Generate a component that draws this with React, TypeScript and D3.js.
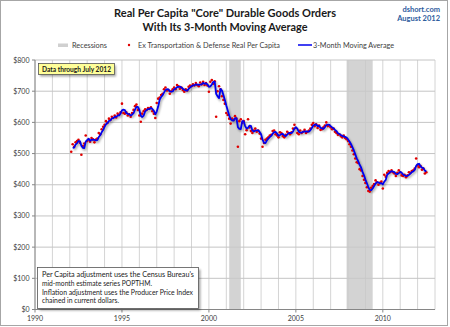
import React from "react";
import * as d3 from "d3";

// ---- Data ----
const startYear = 1992;
const startMonth = 1; // Feb (0-based)
const monthlyValues: number[] = [
  // 1992 Feb-Dec
  506, 530, 522, 536, 540, 544, 535, 496, 524, 532, 558,
  // 1993
  540, 545, 538, 550, 546, 536, 545, 548, 566, 562, 578, 586,
  // 1994
  592, 604, 598, 612, 608, 618, 614, 622, 616, 628, 624, 632,
  // 1995
  660, 630, 628, 632, 622, 626, 618, 630, 640, 652, 657, 640,
  // 1996
  622, 602, 628, 636, 642, 640, 646, 644, 648, 636, 628, 614,
  // 1997
  662, 676, 680, 688, 692, 706, 712, 702, 704, 692, 700, 706,
  // 1998
  712, 706, 720, 716, 708, 712, 704, 698, 706, 702, 714, 718,
  // 1999
  716, 722, 718, 726, 720, 716, 728, 722, 730, 720, 726, 718,
  // 2000
  698, 730, 736, 724, 732, 618, 700, 716, 706, 684, 672, 660,
  // 2001
  630, 624, 612, 596, 612, 608, 620, 612, 522, 604, 610, 598,
  // 2002
  604, 562, 575, 610, 584, 572, 566, 574, 580, 570, 574, 564,
  // 2003
  548, 522, 534, 544, 548, 552, 558, 560, 572, 574, 562, 558,
  // 2004
  552, 568, 566, 556, 552, 560, 570, 566, 562, 568, 580, 592,
  // 2005
  582, 566, 562, 574, 566, 570, 576, 566, 570, 574, 580, 592,
  // 2006
  598, 588, 594, 582, 590, 576, 578, 584, 590, 600, 588, 590,
  // 2007
  584, 578, 580, 570, 566, 560, 562, 556, 552, 558, 550, 546,
  // 2008
  540, 530, 522, 510, 498, 484, 472, 470, 450, 446, 428, 416,
  // 2009
  406, 392, 380, 378, 390, 396, 402, 414, 408, 400, 406, 410,
  // 2010
  388, 432, 426, 438, 444, 440, 446, 440, 436, 428, 438, 446,
  // 2011
  440, 430, 428, 432, 424, 430, 440, 438, 444, 446, 452, 484,
  // 2012 Jan-Jul
  462, 456, 460, 448, 452, 436, 440,
];

const recessionStarts = [2001 + 2 / 12, 2007 + 11 / 12];
const recessionEnds = [2001 + 10 / 12, 2009 + 5 / 12];

const yTicks = [0, 100, 200, 300, 400, 500, 600, 700, 800];
const xLabelYears = [1990, 1995, 2000, 2005, 2010];
const gridYears = d3.range(1990, 2014);

const titleLines = ['Real Per Capita "Core" Durable Goods Orders', "With Its 3-Month Moving Average"];
const noteLines = [
  "Per Capita adjustment uses the Census Bureau's",
  "mid-month estimate series POPTHM.",
  "Inflation adjustment uses the Producer Price Index",
  "chained in current dollars.",
];
const noteWidths = [152, 110, 151, 77];

export default function App() {
  const W = 450, H = 327;
  const x = d3.scaleLinear().domain([1990, 2013]).range([35, 435]);
  const y = d3.scaleLinear().domain([0, 800]).range([309.5, 60]);

  const pts = monthlyValues.map((v, i) => {
    const m = startMonth + i;
    return { t: startYear + m / 12, v };
  });
  const ma = pts.map((p, i) => {
    const win = pts.slice(Math.max(0, i - 2), i + 1);
    return { t: p.t, v: d3.mean(win, (d) => d.v) as number };
  }).slice(1);

  const line = d3.line<{ t: number; v: number }>()
    .x((d) => x(d.t))
    .y((d) => y(d.v))
    .curve(d3.curveLinear);

  const font = "Lato, 'Open Sans', sans-serif";
  const axisColor = "#404040";

  return (
    <svg width={W} height={H} style={{ position: "absolute", left: 0, top: 0, background: "#fff" }}
      fontFamily={font}>
      <defs>
        <filter id="blur" x="-10%" y="-10%" width="120%" height="120%">
          <feGaussianBlur stdDeviation="1.2" />
        </filter>
        <filter id="boxshadow" x="-10%" y="-20%" width="130%" height="160%">
          <feGaussianBlur stdDeviation="1" />
        </filter>
      </defs>
      <rect x={0.5} y={0.5} width={447} height={325} fill="#fff" stroke="#a6a6a6" />

      {/* Title */}
      {titleLines.map((t, i) => (
        <text key={i} x={225} y={17 + i * 13.5} textAnchor="middle" fontWeight="bold" fontSize={12}
          fill="#1a1a1a" textLength={i === 0 ? 222 : 165} lengthAdjust="spacingAndGlyphs">{t}</text>
      ))}
      <text x={440} y={12} textAnchor="end" fontWeight="bold" fontSize={7.5} fill="#2e5c9e">dshort.com</text>
      <text x={440} y={21} textAnchor="end" fontWeight="bold" fontSize={7.5} fill="#2e5c9e">August 2012</text>

      {/* Legend */}
      <rect x={58} y={43.5} width={10} height={3.5} fill="#d0d0d0" />
      <text x={72} y={47.5} fontSize={7.5} fill={axisColor} textLength={35} lengthAdjust="spacingAndGlyphs">Recessions</text>
      <circle cx={129} cy={45} r={1.2} fill="#e00000" />
      <text x={138} y={47.5} fontSize={7.5} fill={axisColor} textLength={142} lengthAdjust="spacingAndGlyphs">Ex Transportation &amp; Defense Real Per Capita</text>
      <line x1={298} x2={312} y1={45} y2={45} stroke="#0000ee" strokeWidth={1.5} />
      <text x={313} y={47.5} fontSize={7.5} fill={axisColor} textLength={81} lengthAdjust="spacingAndGlyphs">3-Month Moving Average</text>

      {/* Gridlines */}
      {gridYears.map((g) => (
        <line key={"vx" + g} x1={x(g)} x2={x(g)} y1={y(800)} y2={y(0)} stroke="#d4d4d4" strokeWidth={1} />
      ))}
      {yTicks.map((v) => (
        <line key={"hy" + v} x1={x(1990)} x2={x(2013)} y1={y(v)} y2={y(v)} stroke="#c4c4c4" strokeWidth={1} />
      ))}

      {/* Recessions */}
      {recessionStarts.map((s, i) => (
        <rect key={"r" + i} x={x(s)} y={y(800)} width={x(recessionEnds[i]) - x(s)} height={y(0) - y(800)}
          fill="#c8c8c8" opacity={0.8} />
      ))}

      {/* Axes */}
      <line x1={x(1990)} x2={x(1990)} y1={y(800)} y2={y(0)} stroke="#868686" />
      <line x1={x(1990)} x2={x(2013)} y1={y(0)} y2={y(0)} stroke="#868686" />
      {yTicks.map((v) => (
        <g key={"yt" + v}>
          <line x1={x(1990) - 3} x2={x(1990)} y1={y(v)} y2={y(v)} stroke="#868686" />
          <text x={29.5} y={y(v) + 2.5} textAnchor="end" fontSize={7} fill={axisColor}>{"$" + v}</text>
        </g>
      ))}
      {xLabelYears.map((yr) => (
        <g key={"xt" + yr}>
          <line x1={x(yr)} x2={x(yr)} y1={y(0)} y2={y(0) + 3} stroke="#868686" />
          <text x={x(yr)} y={321} textAnchor="middle" fontSize={7} fill={axisColor}>{yr}</text>
        </g>
      ))}

      {/* MA shadow + line */}
      <path d={line(ma) || ""} fill="none" stroke="#000" strokeOpacity={0.35} strokeWidth={2.2}
        transform="translate(1,1.5)" filter="url(#blur)" />
      {/* Points */}
      {pts.map((p, i) => (
        <circle key={"p" + i} cx={x(p.t)} cy={y(p.v)} r={1.3} fill="#e00000" />
      ))}
      <path d={line(ma) || ""} fill="none" stroke="#0000ee" strokeWidth={1.8} strokeLinejoin="round" />

      {/* Data through callout */}
      <rect x={40} y={65.5} width={76} height={11} fill="#000" opacity={0.35} filter="url(#boxshadow)" />
      <rect x={38.5} y={63.5} width={76} height={11} fill="#ffff99" stroke="#555" strokeWidth={0.8} />
      <text x={76.5} y={71.5} textAnchor="middle" fontSize={7} fontWeight="bold" fill="#1a1a1a"
        textLength={69} lengthAdjust="spacingAndGlyphs">Data through July 2012</text>

      {/* Note box */}
      <rect x={39.5} y={269.5} width={161} height={41} fill="#000" opacity={0.35} filter="url(#boxshadow)" />
      <rect x={37.5} y={267.5} width={161} height={41} fill="#fff" stroke="#555" strokeWidth={0.8} />
      {noteLines.map((t, i) => (
        <text key={"n" + i} x={42} y={277 + i * 8.8} fontSize={7} fill="#1a1a1a"
          textLength={noteWidths[i]} lengthAdjust="spacingAndGlyphs">{t}</text>
      ))}
    </svg>
  );
}
